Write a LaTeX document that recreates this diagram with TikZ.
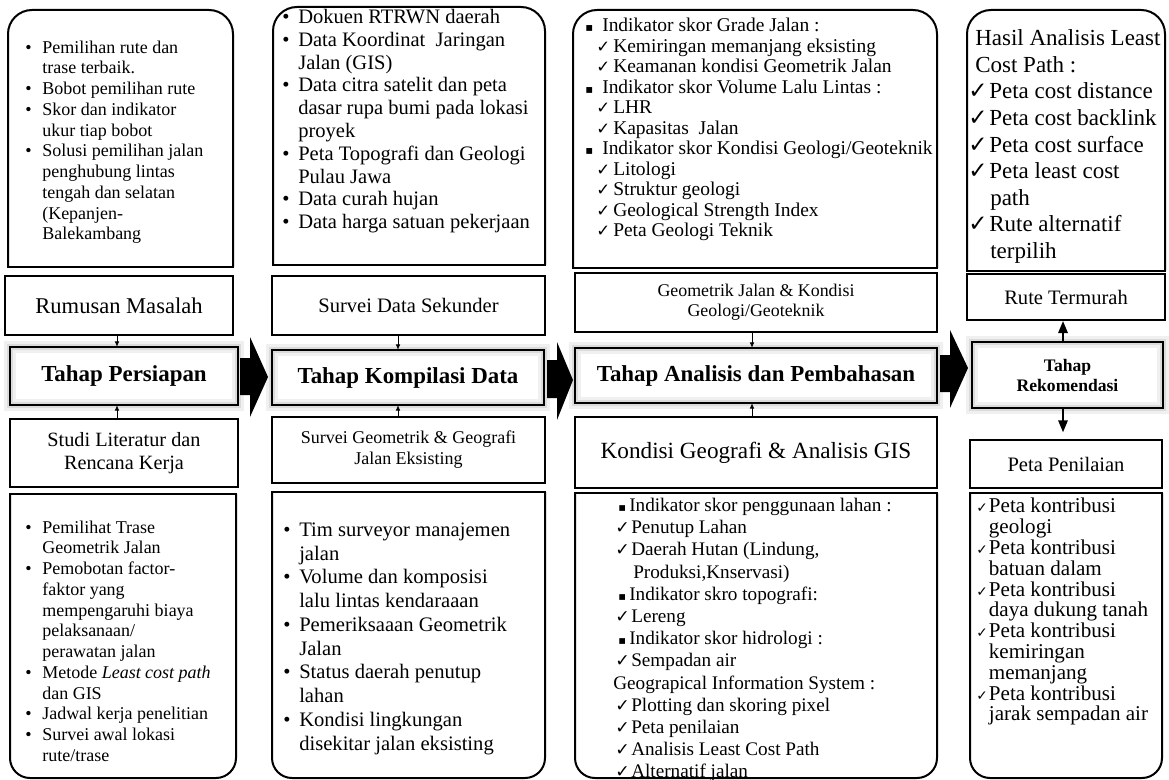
\documentclass[tikz,border=0pt]{standalone}
\usepackage{fontspec}
\setmainfont{Liberation Serif}
\newfontfamily\dejavu{DejaVu Sans}
\usepackage{graphicx}
\usetikzlibrary{arrows.meta,calc}
\newcommand\fsz[2]{\fontsize{#1pt}{#2pt}\selectfont}
\newcommand\ck[1]{{\dejavu\scalebox{#1}{✓}}}
\newcommand\sq[1]{{\dejavu\scalebox{#1}{▪}}}
\newcommand\bA{\makebox[12.75pt][l]{•}}
\newcommand\iA{\hspace*{12.75pt}}
\newcommand\bB{\makebox[12pt][l]{•}}
\newcommand\iB{\hspace*{12pt}}
\newcommand\sA{\makebox[12.75pt][l]{\sq{0.6}}}
\newcommand\cA{\hspace*{8.25pt}\makebox[12.75pt][l]{\ck{0.85}}}
\newcommand\sB{\hspace*{3.75pt}\makebox[8.25pt][l]{\sq{0.6}}}
\newcommand\cB{\hspace*{1.5pt}\makebox[12pt][l]{\ck{0.9}}}
\newcommand\iC{\hspace*{15pt}}
\newcommand\cC{\makebox[15.75pt][l]{\ck{1}}}
\newcommand\iD{\hspace*{16.5pt}}
\newcommand\cD{\makebox[9.5pt][l]{\ck{0.65}}}
\newcommand\iE{\hspace*{9.5pt}}
\newcommand\topbox[4]{\draw[boxln,rounded corners=18pt] (#1,#4) -- (#1,#2) -- (#3,#2) -- (#3,#4); \draw[boxln,line cap=rect] (#1,#4) -- (#3,#4);}
\newcommand\botbox[4]{\draw[boxln,rounded corners=15pt] (#1,#2) -- (#1,#4) -- (#3,#4) -- (#3,#2); \draw[boxln,line cap=rect] (#1,#2) -- (#3,#2);}
\begin{document}
\begin{tikzpicture}[x=0.75pt,y=-0.75pt,
  boxln/.style={line width=1.5pt},
  sbox/.style={draw, line width=1.5pt, fill=white, inner sep=0pt, align=center},
  tbox/.style={fill=white, inner sep=0pt, align=center, font=\bfseries\fsz{17.2}{20},
    postaction={draw=black!6,line width=9pt},
    postaction={draw=black!14,line width=4.5pt},
    postaction={draw=black,line width=1.5pt}},
  txt/.style={anchor=north west, inner sep=0pt, align=left},
  sarr/.style={line width=0.6pt, -{Latex[length=4pt,width=3.5pt]}},
  barr/.style={line width=1.5pt, -{Triangle[length=9pt,width=7pt]}}]
\fill[white] (0,0) rectangle (1169,780);
\useasboundingbox (0,0) rectangle (1169,780);

% ---------- column 1
\topbox{8}{10}{233}{267}
\node[txt, font=\fsz{13.5}{15.55}] (c1t) at (25,40.5) {\bA Pemilihan rute dan\\ \iA trase terbaik.\\ \bA Bobot pemilihan rute\\ \bA Skor dan indikator\\ \iA ukur tiap bobot\\ \bA Solusi pemilihan jalan\\ \iA penghubung lintas\\ \iA tengah dan selatan\\ \iA (Kepanjen-\\ \iA Balekambang};
\node[sbox, minimum width=228*0.75pt, minimum height=59*0.75pt, font=\fsz{16.9}{19}] (rm) at (119,305.5) {Rumusan Masalah};
\node[tbox, minimum width=228*0.75pt, minimum height=58*0.75pt] (tp) at (124,376) {Tahap Persiapan};
\node[sbox, minimum width=228*0.75pt, minimum height=68*0.75pt, font=\fsz{15.2}{17.25}] (sl) at (124,453) {Studi Literatur dan\\Rencana Kerja};
\botbox{10}{494}{236}{778}
\node[txt, font=\fsz{13.5}{15.55}] (c1b) at (25,520.5) {\bA Pemilihat Trase\\ \iA Geometrik Jalan\\ \bA Pemobotan factor-\\ \iA faktor yang\\ \iA mempengaruhi biaya\\ \iA pelaksanaan/\\ \iA perawatan jalan\\ \bA Metode \textit{Least cost path}\\ \iA dan GIS\\ \bA Jadwal kerja penelitian\\ \bA Survei awal lokasi\\ \iA rute/trase};

% ---------- column 2
\topbox{273}{7}{545}{265}
\node[txt, font=\fsz{15.4}{17.1}] (c2t) at (282,9) {\bB Dokuen RTRWN daerah\\ \bB Data Koordinat\ \ Jaringan\\ \iB Jalan (GIS)\\ \bB Data citra satelit dan peta\\ \iB dasar rupa bumi pada lokasi\\ \iB proyek\\ \bB Peta Topografi dan Geologi\\ \iB Pulau Jawa\\ \bB Data curah hujan\\ \bB Data harga satuan pekerjaan};
\node[sbox, minimum width=273*0.75pt, minimum height=59*0.75pt, font=\fsz{15.4}{17}] (sds) at (408.5,305.5) {Survei Data Sekunder};
\node[tbox, minimum width=272*0.75pt, minimum height=55*0.75pt] (tk) at (408,377.5) {Tahap Kompilasi Data};
\node[sbox, minimum width=273*0.75pt, minimum height=66*0.75pt, font=\fsz{13.5}{15.75}] (sg) at (408.5,450) {Survei Geometrik \& Geografi\\Jalan Eksisting};
\botbox{272}{492}{545}{778}
\node[txt, font=\fsz{15.45}{17.8}] (c2b) at (283,522.6) {\bB Tim surveyor manajemen\\ \iB jalan\\ \bB Volume dan komposisi\\ \iB lalu lintas kendaraaan\\ \bB Pemeriksaaan Geometrik\\ \iB Jalan\\ \bB Status daerah penutup\\ \iB lahan\\ \bB Kondisi lingkungan\\ \iB disekitar jalan eksisting};

% ---------- column 3
\topbox{573}{10}{937}{268}
\node[txt, font=\fsz{14.6}{15.4}] (c3t) at (585,17.8) {\sA Indikator skor Grade Jalan :\\ \cA Kemiringan memanjang eksisting\\ \cA Keamanan kondisi Geometrik Jalan\\ \sA Indikator skor Volume Lalu Lintas :\\ \cA LHR\\ \cA Kapasitas\ \ Jalan\\ \sA Indikator skor Kondisi Geologi/Geoteknik\\ \cA Litologi\\ \cA Struktur geologi\\ \cA Geological Strength Index\\ \cA Peta Geologi Teknik};
\node[sbox, minimum width=362*0.75pt, minimum height=59*0.75pt, font=\fsz{13.4}{15}] (gj) at (756,302.5) {Geometrik Jalan \& Kondisi\\Geologi/Geoteknik};
\node[tbox, minimum width=362*0.75pt, minimum height=55*0.75pt] (ta) at (756,375.5) {Tahap Analisis dan Pembahasan};
\node[sbox, minimum width=362*0.75pt, minimum height=71*0.75pt, font=\fsz{17.4}{20}] (kg) at (756,452.5) {Kondisi Geografi \& Analisis GIS};
\botbox{575}{493}{937}{778}
\node[txt, font=\fsz{14.4}{16.65}] (c3b) at (613,498) {\sB Indikator skor penggunaan lahan :\\ \cB Penutup Lahan\\ \cB Daerah Hutan (Lindung,\\ \iC Produksi,Knservasi)\\ \sB Indikator skro topografi:\\ \cB Lereng\\ \sB Indikator skor hidrologi :\\ \cB Sempadan air\\ Geograpical Information System :\\ \cB Plotting dan skoring pixel\\ \cB Peta penilaian\\ \cB Analisis Least Cost Path\\ \cB Alternatif jalan};

% ---------- column 4
\topbox{967}{10}{1165}{271}
\node[txt, font=\fsz{17.25}{19.9}] (c4t) at (968,29.7) {\hspace*{5.25pt}Hasil Analisis Least\\ \hspace*{5.25pt}Cost Path :\\ \cC Peta cost distance\\ \cC Peta cost backlink\\ \cC Peta cost surface\\ \cC Peta least cost\\ \iD path\\ \cC Rute alternatif\\ \iD terpilih};
\node[sbox, minimum width=198*0.75pt, minimum height=46*0.75pt, font=\fsz{15.4}{17}] (rt) at (1066,297) {Rute Termurah};
\node[tbox, minimum width=191*0.75pt, minimum height=66*0.75pt, font=\bfseries\fsz{13.2}{15}] (rk) at (1067.5,375) {Tahap\\Rekomendasi};
\node[sbox, minimum width=192*0.75pt, minimum height=48*0.75pt, font=\fsz{15.4}{17}] (pp) at (1066,464) {Peta Penilaian};
\botbox{970}{493}{1162}{778}
\node[txt, font=\fsz{15.8}{15.6}] (c4b) at (976,498) {\cD Peta kontribusi\\ \iE geologi\\ \cD Peta kontribusi\\ \iE batuan dalam\\ \cD Peta kontribusi\\ \iE daya dukung tanah\\ \cD Peta kontribusi\\ \iE kemiringan\\ \iE memanjang\\ \cD Peta kontribusi\\ \iE jarak sempadan air};

% ---------- block arrows between stages
\fill (240,358) -- (250,358) -- (250,337) -- (268,377) -- (250,417) -- (250,395) -- (240,395) -- cycle;
\fill (547,360) -- (557,360) -- (557,342) -- (573,380) -- (557,420) -- (557,398) -- (547,398) -- cycle;
\fill (940,355) -- (950,355) -- (950,330) -- (968,368) -- (950,408) -- (950,392) -- (940,392) -- cycle;

% ---------- small connectors
\draw[sarr] ($(rm.south)+(-2,0)$) -- ($(tp.north)+(-7,0)$);
\draw[sarr] ($(sl.north)+(-7,0)$) -- ($(tp.south)+(-7,0)$);
\draw[sarr] ($(sds.south)+(-10.5,0)$) -- ($(tk.north)+(-10,0)$);
\draw[sarr] ($(sg.north)+(-10.5,0)$) -- ($(tk.south)+(-10,0)$);
\draw[sarr] ($(gj.south)+(-4,0)$) -- ($(ta.north)+(-4,0)$);
\draw[sarr] ($(kg.north)+(-4,0)$) -- ($(ta.south)+(-4,0)$);
\draw[barr] ($(rk.north)+(-4.5,0)$) -- ($(rt.south)+(-3,0)$);
\draw[barr, shorten >=5pt] ($(rk.south)+(-4.5,0)$) -- ($(pp.north)+(-3,0)$);
\end{tikzpicture}
\end{document}
